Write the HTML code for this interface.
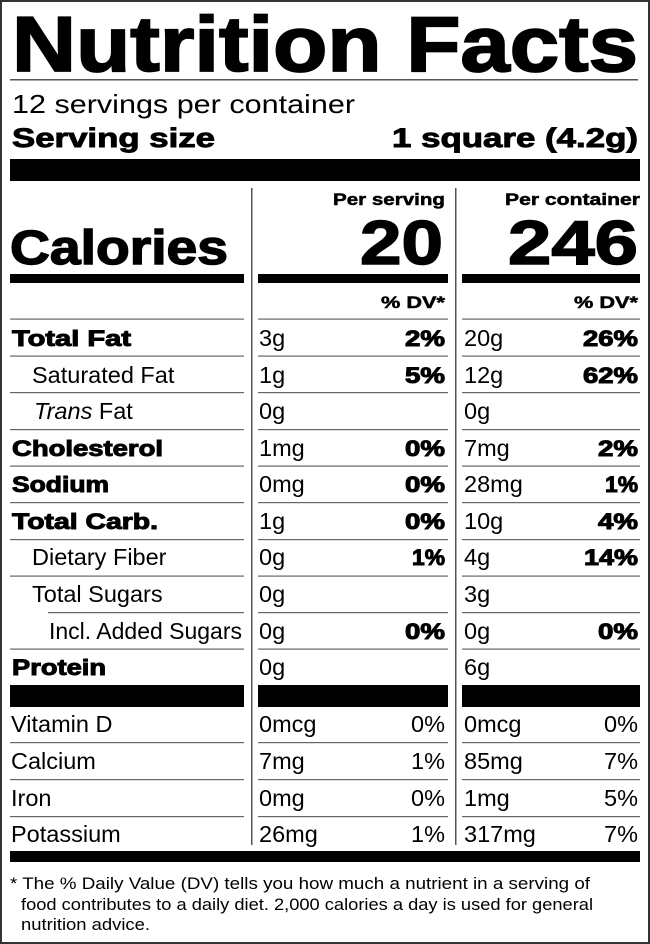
<!DOCTYPE html>
<html><head><meta charset="utf-8"><style>
html,body{margin:0;padding:0;background:#fff}
svg{display:block}
text{font-family:"Liberation Sans",Arial,sans-serif;fill:#000}
.b{font-weight:bold;stroke:#000;stroke-width:0.7}
.r{font-size:23.5px}
.bn{font-size:22.5px;font-weight:bold;stroke:#000;stroke-width:1}
</style></head><body>
<svg width="650" height="944" viewBox="0 0 650 944" xmlns="http://www.w3.org/2000/svg">
<rect x="1" y="1" width="648" height="942" fill="#fff" stroke="#333" stroke-width="2"/>
<text x="12" y="71" font-size="78" class="b" style="stroke-width:1.8" textLength="626" lengthAdjust="spacingAndGlyphs">Nutrition Facts</text>
<rect x="10" y="79" width="628" height="1.5" fill="#555"/>
<text x="12" y="113" font-size="26" textLength="343" lengthAdjust="spacingAndGlyphs">12 servings per container</text>
<text x="12" y="147" font-size="27" class="b" style="stroke-width:0.9" textLength="203" lengthAdjust="spacingAndGlyphs">Serving size</text>
<text x="392" y="147" font-size="27" class="b" style="stroke-width:0.9" textLength="246" lengthAdjust="spacingAndGlyphs">1 square (4.2g)</text>
<rect x="10" y="159" width="630" height="22" fill="#000"/>
<rect x="251" y="188" width="1.5" height="657" fill="#555"/>
<rect x="455" y="188" width="1.5" height="657" fill="#555"/>
<text x="333" y="205" font-size="17" class="b" style="stroke-width:0.5" textLength="112" lengthAdjust="spacingAndGlyphs">Per serving</text>
<text x="505" y="205" font-size="17" class="b" style="stroke-width:0.5" textLength="135" lengthAdjust="spacingAndGlyphs">Per container</text>
<text x="10" y="264" font-size="48" class="b" style="stroke-width:1.4" textLength="218" lengthAdjust="spacingAndGlyphs">Calories</text>
<text x="360" y="264" font-size="62" class="b" style="stroke-width:1.5" textLength="83" lengthAdjust="spacingAndGlyphs">20</text>
<text x="508" y="264" font-size="62" class="b" style="stroke-width:1.5" textLength="130" lengthAdjust="spacingAndGlyphs">246</text>
<rect x="10" y="274" width="234" height="9" fill="#000"/>
<rect x="258" y="274" width="190" height="9" fill="#000"/>
<rect x="462" y="274" width="178" height="9" fill="#000"/>
<text x="381" y="308" font-size="17" class="b" style="stroke-width:0.5" textLength="64" lengthAdjust="spacingAndGlyphs">% DV*</text>
<text x="574" y="308" font-size="17" class="b" style="stroke-width:0.5" textLength="64" lengthAdjust="spacingAndGlyphs">% DV*</text>
<g fill="#666">
<rect x="10" y="318.5" width="234" height="1.2"/><rect x="258" y="318.5" width="190" height="1.2"/><rect x="462" y="318.5" width="178" height="1.2"/>
<rect x="10" y="355.5" width="234" height="1.2"/><rect x="258" y="355.5" width="190" height="1.2"/><rect x="462" y="355.5" width="178" height="1.2"/>
<rect x="10" y="392" width="234" height="1.2"/><rect x="258" y="392" width="190" height="1.2"/><rect x="462" y="392" width="178" height="1.2"/>
<rect x="10" y="429" width="234" height="1.2"/><rect x="258" y="429" width="190" height="1.2"/><rect x="462" y="429" width="178" height="1.2"/>
<rect x="10" y="465.5" width="234" height="1.2"/><rect x="258" y="465.5" width="190" height="1.2"/><rect x="462" y="465.5" width="178" height="1.2"/>
<rect x="10" y="502" width="234" height="1.2"/><rect x="258" y="502" width="190" height="1.2"/><rect x="462" y="502" width="178" height="1.2"/>
<rect x="10" y="539" width="234" height="1.2"/><rect x="258" y="539" width="190" height="1.2"/><rect x="462" y="539" width="178" height="1.2"/>
<rect x="10" y="575.5" width="234" height="1.2"/><rect x="258" y="575.5" width="190" height="1.2"/><rect x="462" y="575.5" width="178" height="1.2"/>
<rect x="48" y="612" width="196" height="1.2"/><rect x="258" y="612" width="190" height="1.2"/><rect x="462" y="612" width="178" height="1.2"/>
<rect x="10" y="648.5" width="234" height="1.2"/><rect x="258" y="648.5" width="190" height="1.2"/><rect x="462" y="648.5" width="178" height="1.2"/>
<rect x="10" y="742" width="234" height="1.2"/><rect x="258" y="742" width="190" height="1.2"/><rect x="462" y="742" width="178" height="1.2"/>
<rect x="10" y="779" width="234" height="1.2"/><rect x="258" y="779" width="190" height="1.2"/><rect x="462" y="779" width="178" height="1.2"/>
<rect x="10" y="816" width="234" height="1.2"/><rect x="258" y="816" width="190" height="1.2"/><rect x="462" y="816" width="178" height="1.2"/>
</g>
<rect x="10" y="685" width="234" height="22" fill="#000"/>
<rect x="258" y="685" width="190" height="22" fill="#000"/>
<rect x="462" y="685" width="178" height="22" fill="#000"/>
<rect x="10" y="851" width="630" height="11" fill="#000"/>

<text x="12" y="346" class="bn" textLength="119" lengthAdjust="spacingAndGlyphs">Total Fat</text>
<text x="259" y="346" class="r">3g</text><text x="405" y="346" class="bn" textLength="40" lengthAdjust="spacingAndGlyphs">2%</text>
<text x="464" y="346" class="r">20g</text><text x="583" y="346" class="bn" textLength="55" lengthAdjust="spacingAndGlyphs">26%</text>

<text x="32" y="383" class="r">Saturated Fat</text>
<text x="259" y="383" class="r">1g</text><text x="405" y="383" class="bn" textLength="40" lengthAdjust="spacingAndGlyphs">5%</text>
<text x="464" y="383" class="r">12g</text><text x="583" y="383" class="bn" textLength="55" lengthAdjust="spacingAndGlyphs">62%</text>

<text x="34" y="419" class="r"><tspan font-style="italic">Trans</tspan> Fat</text>
<text x="259" y="419" class="r">0g</text>
<text x="464" y="419" class="r">0g</text>

<text x="12" y="456" class="bn" textLength="151" lengthAdjust="spacingAndGlyphs">Cholesterol</text>
<text x="259" y="456" class="r">1mg</text><text x="405" y="456" class="bn" textLength="40" lengthAdjust="spacingAndGlyphs">0%</text>
<text x="464" y="456" class="r">7mg</text><text x="598" y="456" class="bn" textLength="40" lengthAdjust="spacingAndGlyphs">2%</text>

<text x="12" y="492" class="bn" textLength="97" lengthAdjust="spacingAndGlyphs">Sodium</text>
<text x="259" y="492" class="r">0mg</text><text x="405" y="492" class="bn" textLength="40" lengthAdjust="spacingAndGlyphs">0%</text>
<text x="464" y="492" class="r">28mg</text><text x="605" y="492" class="bn" textLength="33" lengthAdjust="spacingAndGlyphs">1%</text>

<text x="12" y="529" class="bn" textLength="146" lengthAdjust="spacingAndGlyphs">Total Carb.</text>
<text x="259" y="529" class="r">1g</text><text x="405" y="529" class="bn" textLength="40" lengthAdjust="spacingAndGlyphs">0%</text>
<text x="464" y="529" class="r">10g</text><text x="598" y="529" class="bn" textLength="40" lengthAdjust="spacingAndGlyphs">4%</text>

<text x="32" y="565" class="r">Dietary Fiber</text>
<text x="259" y="565" class="r">0g</text><text x="412" y="565" class="bn" textLength="33" lengthAdjust="spacingAndGlyphs">1%</text>
<text x="464" y="565" class="r">4g</text><text x="584" y="565" class="bn" textLength="54" lengthAdjust="spacingAndGlyphs">14%</text>

<text x="32" y="602" class="r">Total Sugars</text>
<text x="259" y="602" class="r">0g</text>
<text x="464" y="602" class="r">3g</text>

<text x="49" y="639" class="r" textLength="193" lengthAdjust="spacingAndGlyphs">Incl. Added Sugars</text>
<text x="259" y="639" class="r">0g</text><text x="405" y="639" class="bn" textLength="40" lengthAdjust="spacingAndGlyphs">0%</text>
<text x="464" y="639" class="r">0g</text><text x="598" y="639" class="bn" textLength="40" lengthAdjust="spacingAndGlyphs">0%</text>

<text x="12" y="675" class="bn" textLength="94" lengthAdjust="spacingAndGlyphs">Protein</text>
<text x="259" y="675" class="r">0g</text>
<text x="464" y="675" class="r">6g</text>

<text x="11" y="732" class="r">Vitamin D</text>
<text x="259" y="732" class="r">0mcg</text><text x="445" y="732" class="r" text-anchor="end">0%</text>
<text x="464" y="732" class="r">0mcg</text><text x="638" y="732" class="r" text-anchor="end">0%</text>

<text x="11" y="769" class="r">Calcium</text>
<text x="259" y="769" class="r">7mg</text><text x="445" y="769" class="r" text-anchor="end">1%</text>
<text x="464" y="769" class="r">85mg</text><text x="638" y="769" class="r" text-anchor="end">7%</text>

<text x="11" y="806" class="r">Iron</text>
<text x="259" y="806" class="r">0mg</text><text x="445" y="806" class="r" text-anchor="end">0%</text>
<text x="464" y="806" class="r">1mg</text><text x="638" y="806" class="r" text-anchor="end">5%</text>

<text x="11" y="842" class="r">Potassium</text>
<text x="259" y="842" class="r">26mg</text><text x="445" y="842" class="r" text-anchor="end">1%</text>
<text x="464" y="842" class="r">317mg</text><text x="638" y="842" class="r" text-anchor="end">7%</text>

<text x="10" y="889" font-size="17" textLength="580" lengthAdjust="spacingAndGlyphs">* The % Daily Value (DV) tells you how much a nutrient in a serving of</text>
<text x="21" y="910" font-size="17" textLength="572" lengthAdjust="spacingAndGlyphs">food contributes to a daily diet. 2,000 calories a day is used for general</text>
<text x="21" y="930" font-size="17" textLength="129" lengthAdjust="spacingAndGlyphs">nutrition advice.</text>
</svg>
</body></html>
